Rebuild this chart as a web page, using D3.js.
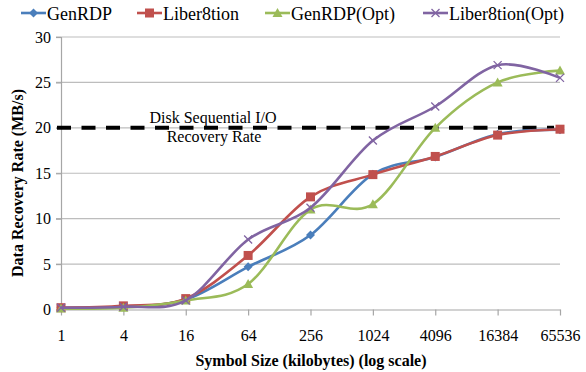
<!DOCTYPE html>
<html>
<head>
<meta charset="utf-8">
<script src="https://cdn.jsdelivr.net/npm/d3@7"></script>
</head>
<body style="margin:0; background:#fff">
<script>
const width = 586;
const height = 372;
const serif = "'Liberation Serif'";

// symbol sizes (kilobytes), log scale categories
const sizes = ['1', '4', '16', '64', '256', '1024', '4096', '16384', '65536'];
const yTicks = [0, 5, 10, 15, 20, 25, 30];

// data recovery rate (MB/s)
const genRDP = [0.2, 0.3, 1.1, 4.7, 8.2, 14.9, 16.8, 19.3, 19.8];
const liber8tion = [0.2, 0.4, 1.2, 5.95, 12.4, 14.85, 16.85, 19.2, 19.85];
const genRDPOpt = [0.1, 0.2, 1.0, 2.8, 11.0, 11.6, 20.0, 25.0, 26.3];
const liber8tionOpt = [0.2, 0.3, 1.0, 7.7, 11.2, 18.6, 22.35, 26.9, 25.5];

const diskRate = 20;

const series = [
    { name: 'GenRDP', values: genRDP, color: '#4A7EBB', marker: 'diamond' },
    { name: 'Liber8tion', values: liber8tion, color: '#C0504D', marker: 'square' },
    { name: 'GenRDP(Opt)', values: genRDPOpt, color: '#9BBB59', marker: 'triangle' },
    { name: 'Liber8tion(Opt)', values: liber8tionOpt, color: '#8064A2', marker: 'cross' }
];

const svg = d3.select('body').append('svg')
    .attr('width', width)
    .attr('height', height)
    .style('font-family', serif);

const xScale = d3.scalePoint().domain(sizes).range([61, 560]);
const yScale = d3.scaleLinear().domain([0, 30]).range([309.5, 37]);

// gridlines
svg.append('g').classed('grid', true)
    .selectAll('line')
    .data(yTicks.filter(d => d > 0))
    .enter().append('line')
    .attr('x1', 56).attr('x2', 560)
    .attr('y1', d => yScale(d)).attr('y2', d => yScale(d))
    .attr('stroke', '#BDBDBD')
    .attr('stroke-width', 1.2);

// y axis
const yAxis = svg.append('g')
    .attr('transform', 'translate(61,0)')
    .call(d3.axisLeft(yScale).tickValues(yTicks).tickSize(5).tickPadding(5));
yAxis.select('.domain').attr('stroke', '#A6A6A6').attr('stroke-width', 1.2);
yAxis.selectAll('.tick line').attr('stroke', '#A6A6A6').attr('stroke-width', 1.2);
yAxis.selectAll('.tick text')
    .style('font-family', serif)
    .style('font-size', '16px')
    .attr('fill', '#000');

// x axis
const xAxis = svg.append('g')
    .attr('transform', `translate(0,${yScale(0)})`)
    .call(d3.axisBottom(xScale).tickSize(6).tickSizeOuter(0).tickPadding(14));
xAxis.select('.domain').attr('stroke', '#A6A6A6').attr('stroke-width', 1.2);
xAxis.selectAll('.tick line').attr('stroke', '#A6A6A6').attr('stroke-width', 1.2);
xAxis.selectAll('.tick text')
    .style('font-family', serif)
    .style('font-size', '16px')
    .attr('fill', '#000');

// disk sequential I/O reference line
svg.append('line')
    .attr('x1', 57).attr('x2', 554)
    .attr('y1', yScale(diskRate)).attr('y2', yScale(diskRate))
    .attr('stroke', '#000')
    .attr('stroke-width', 4)
    .attr('stroke-dasharray', '14,10.5');

svg.append('text')
    .attr('x', 213).attr('y', 123)
    .attr('text-anchor', 'middle')
    .style('font-family', serif)
    .style('font-size', '16px')
    .text('Disk Sequential I/O');
svg.append('text')
    .attr('x', 214).attr('y', 142)
    .attr('text-anchor', 'middle')
    .style('font-family', serif)
    .style('font-size', '16px')
    .text('Recovery Rate');

const line = d3.line()
    .x((d, i) => xScale(sizes[i]))
    .y(d => yScale(d))
    .curve(d3.curveCardinal.tension(0));

function drawMarker(g, type, color, x, y) {
    if (type === 'diamond') {
        g.append('path')
            .attr('d', `M${x},${y - 4.5}L${x + 4.5},${y}L${x},${y + 4.5}L${x - 4.5},${y}Z`)
            .attr('fill', color);
    } else if (type === 'square') {
        g.append('rect')
            .attr('x', x - 4.5).attr('y', y - 4.5)
            .attr('width', 9).attr('height', 9)
            .attr('fill', color);
    } else if (type === 'triangle') {
        g.append('path')
            .attr('d', `M${x},${y - 5}L${x + 5},${y + 4}L${x - 5},${y + 4}Z`)
            .attr('fill', color);
    } else {
        g.append('path')
            .attr('d', `M${x - 4},${y - 4}L${x + 4},${y + 4}M${x - 4},${y + 4}L${x + 4},${y - 4}`)
            .attr('stroke', color)
            .attr('stroke-width', 1.3);
    }
}

series.forEach(s => {
    const g = svg.append('g').classed('series', true);
    g.append('path')
        .datum(s.values)
        .attr('d', line)
        .attr('fill', 'none')
        .attr('stroke', s.color)
        .attr('stroke-width', 2.6)
        .attr('stroke-linejoin', 'round');
    s.values.forEach((v, i) => drawMarker(g, s.marker, s.color, xScale(sizes[i]), yScale(v)));
});

// legend
const legendX = [21, 137, 265, 423];
series.forEach((s, i) => {
    const g = svg.append('g').classed('legend', true);
    const x0 = legendX[i];
    g.append('line')
        .attr('x1', x0).attr('x2', x0 + 25)
        .attr('y1', 13).attr('y2', 13)
        .attr('stroke', s.color)
        .attr('stroke-width', 2.6);
    drawMarker(g, s.marker, s.color, x0 + 12.5, 13);
    g.append('text')
        .attr('x', x0 + 26).attr('y', 20)
        .style('font-family', serif)
        .style('font-size', '18px')
        .text(s.name);
});

// axis titles
svg.append('text')
    .attr('x', 311).attr('y', 366)
    .attr('text-anchor', 'middle')
    .style('font-family', serif)
    .style('font-size', '16px')
    .style('font-weight', 'bold')
    .text('Symbol Size (kilobytes) (log scale)');

svg.append('text')
    .attr('transform', 'translate(23,183) rotate(-90)')
    .attr('text-anchor', 'middle')
    .style('font-family', serif)
    .style('font-size', '16px')
    .style('font-weight', 'bold')
    .text('Data Recovery Rate (MB/s)');
</script>
</body>
</html>
